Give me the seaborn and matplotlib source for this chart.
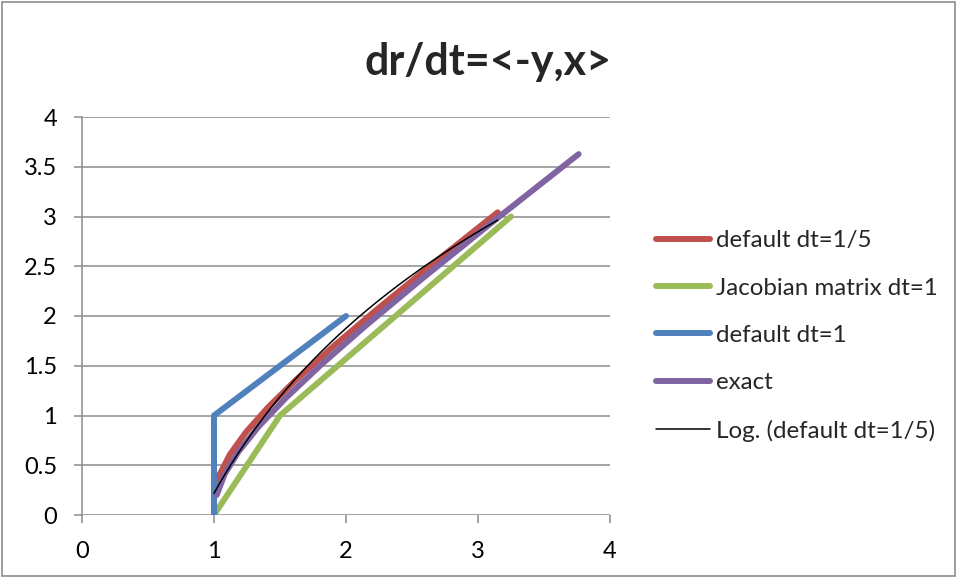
import numpy as np
import pandas as pd
import matplotlib
matplotlib.use('Agg')
import matplotlib.pyplot as plt
from matplotlib.patches import Rectangle
from matplotlib.lines import Line2D
import seaborn as sns

# Series
euler_fifth_x = [1, 1, 1.04, 1.12, 1.2416, 1.408, 1.6241, 1.8965, 2.2338, 2.647, 3.1495]
euler_fifth_y = [0, 0.2, 0.4, 0.608, 0.832, 1.0803, 1.3619, 1.6867, 2.066, 2.5128, 3.0422]

jacobian_x = [1, 1.5, 3.25]
jacobian_y = [0, 1, 3]

euler_one_x = [1, 1, 2]
euler_one_y = [0, 1, 2]

exact_x = [1.0201, 1.0811, 1.1855, 1.3374, 1.5431, 1.8107, 2.1509, 2.5775, 3.1075, 3.7622]
exact_y = [0.2013, 0.4108, 0.6367, 0.8881, 1.1752, 1.5095, 1.9043, 2.3756, 2.9422, 3.6269]

labels = ['default dt=1/5', 'Jacobian matrix dt=1', 'default dt=1', 'exact',
          'Log. (default dt=1/5)']
colors = ['#C0504D', '#9BBB59', '#4F81BD', '#8064A2', '#000000']

sns.set_style('white')
plt.rcParams['font.family'] = ['Lato', 'DejaVu Sans']

fig = plt.figure(figsize=(9.57, 5.78), dpi=100)
ax = fig.add_axes([82 / 957, 1 - 515 / 578, 528 / 957, 398 / 578])

series = [(euler_fifth_x, euler_fifth_y), (jacobian_x, jacobian_y),
          (euler_one_x, euler_one_y), (exact_x, exact_y)]
for (xs, ys), c in zip(series, colors[:4]):
    df = pd.DataFrame({'x': xs, 'y': ys})
    sns.lineplot(data=df, x='x', y='y', sort=False, estimator=None, color=c,
                 linewidth=4.3, solid_capstyle='round', solid_joinstyle='round', ax=ax)

# logarithmic trendline fitted to the dt=1/5 series (like Excel)
ex = np.array(euler_fifth_x)
ey = np.array(euler_fifth_y)
a, b = np.polyfit(np.log(ex), ey, 1)
tx = np.linspace(ex.min(), ex.max(), 200)
trend = pd.DataFrame({'x': tx, 'y': a * np.log(tx) + b})
sns.lineplot(data=trend, x='x', y='y', sort=False, estimator=None, color='black',
             linewidth=1.1, ax=ax)

ax.set_xlim(0, 4)
ax.set_ylim(0, 4)
ax.set_xticks([0, 1, 2, 3, 4])
ax.set_yticks(np.arange(0, 4.01, 0.5))
ax.yaxis.set_major_formatter(matplotlib.ticker.FuncFormatter(lambda v, p: f'{v:g}'))
ax.set_xlabel('')
ax.set_ylabel('')
ax.grid(axis='y', color='#8C8C8C', linewidth=1.1)
ax.set_axisbelow(True)
for s in ['top', 'right', 'bottom']:
    ax.spines[s].set_visible(False)
ax.spines['left'].set_color('#8C8C8C')
ax.spines['left'].set_linewidth(1.1)
ax.tick_params(axis='both', direction='out', length=6, width=1.1, color='#8C8C8C',
               labelsize=17, labelcolor='black')
ax.tick_params(axis='y', pad=12, left=True)
ax.tick_params(axis='x', pad=13, bottom=True)

fig.text(0.51, 1 - 62 / 578, 'dr/dt=<-y,x>', ha='center', va='center',
         fontsize=31, fontweight='bold')

handles = [Line2D([0], [0], color=c, linewidth=4.3 if i < 4 else 1.1,
                  solid_capstyle='round') for i, c in enumerate(colors)]
fig.legend(handles, labels, loc='center left', bbox_to_anchor=(656 / 957, 1 - 336 / 578),
           frameon=False, fontsize=17.4, handlelength=2.23, handletextpad=0.25,
           labelspacing=1.09, borderpad=0, borderaxespad=0)

fig.patches.append(Rectangle((0.002, 0.003), 0.996, 0.994, transform=fig.transFigure,
                             fill=False, edgecolor='#8C8C8C', linewidth=1.2))

fig.savefig('out.png', dpi=100)
